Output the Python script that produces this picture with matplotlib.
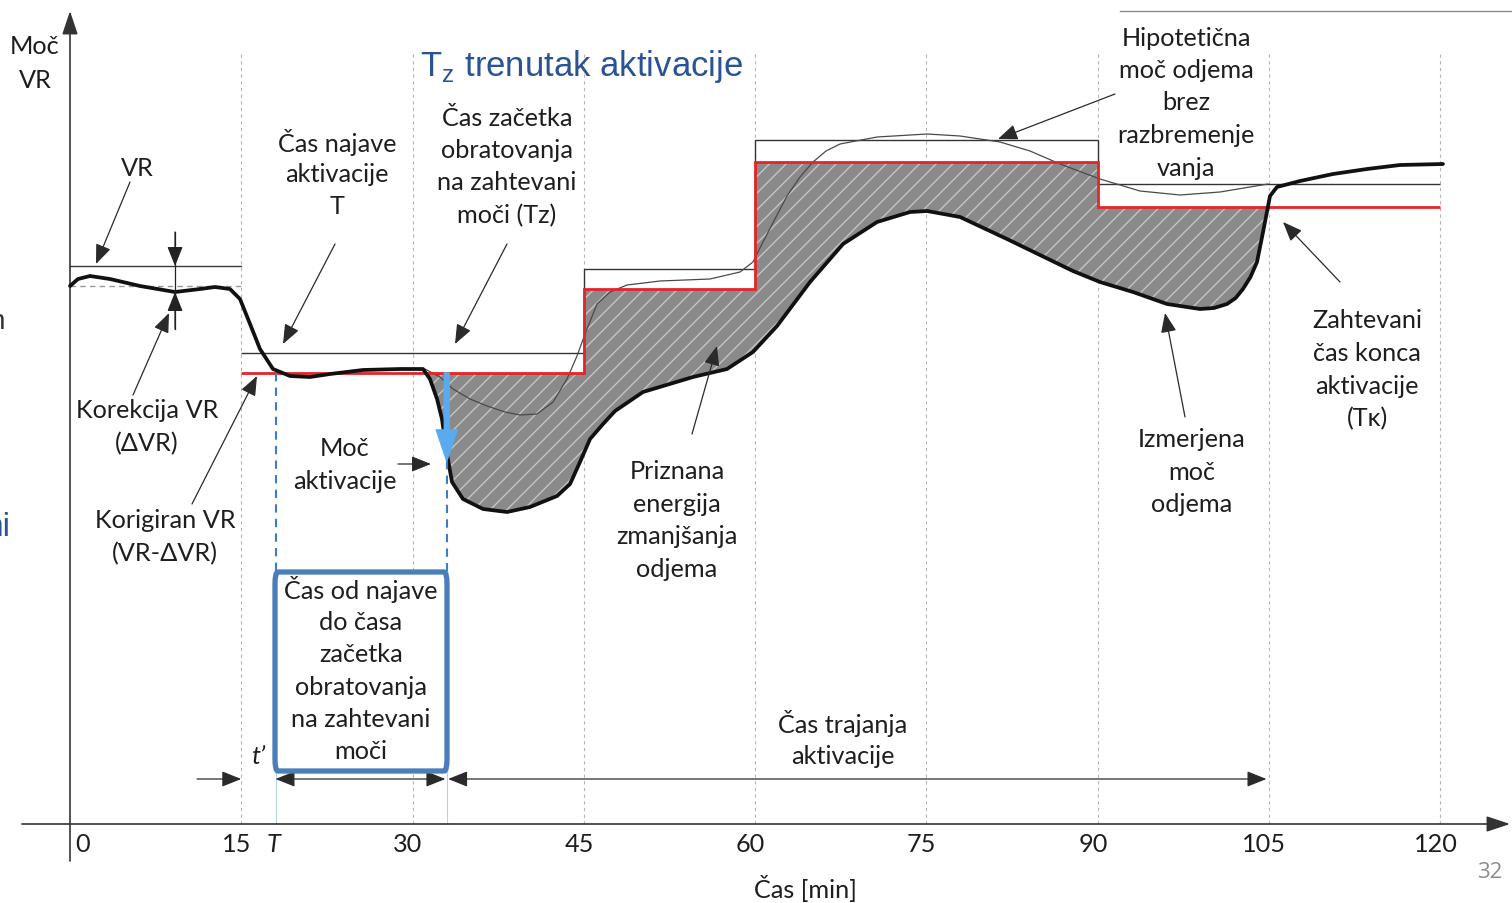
import numpy as np
import matplotlib
matplotlib.use("Agg")
import matplotlib.pyplot as plt
from matplotlib.patches import Polygon, FancyBboxPatch

# ---------------- data ----------------
x_ticks = [0, 15, 30, 45, 60, 75, 90, 105, 120]
x_tick_labels = ["0", "15", "30", "45", "60", "75", "90", "105", "120"]
T_announce = 18.0      # T  (čas najave)
Tz_start = 33.0        # Tz (začetek obratovanja)
T_end = 105.0          # Tk

vr_level = 11.16       # VR
vr_corrected = 10.76   # VR - dVR
dvr_x = 9.2

req_edges = [15, 45, 60, 90, 120]
req_levels = [9.02, 10.70, 13.24, 12.34]      # zahtevana moč (rdeča)
base_levels = [9.42, 11.10, 13.68, 12.80]     # tanka črna (osnovna)

meas_t = [0.0, 0.7, 1.75, 3.5, 6.13, 9.2, 11.39, 12.7, 14.01, 14.89, 15.77,
          16.64, 17.78, 19.27, 21.02, 22.77, 25.66, 28.9, 30.92, 31.53, 32.15,
          32.58, 33.02, 33.46, 34.42, 36.18, 38.28, 40.29, 42.66, 43.8, 44.67,
          45.55, 46.69, 47.74, 50.19, 54.57, 57.55, 59.82, 61.93, 64.82, 67.71,
          70.69, 73.58, 75.07, 77.96, 82.07, 87.85, 90.22, 93.11, 96.09, 98.98,
          100.2, 101.34, 102.1, 102.74, 103.4, 103.97, 104.5, 105.11, 105.72,
          107.74, 110.63, 113.61, 116.5, 120.26]
meas_p = [10.76, 10.9, 10.96, 10.9, 10.76, 10.64, 10.7, 10.74, 10.7, 10.5, 10.0,
          9.5, 9.1, 8.96, 8.94, 9.0, 9.08, 9.1, 9.1, 8.9, 8.5,
          8.1, 7.4, 6.84, 6.5, 6.3, 6.24, 6.34, 6.56, 6.8, 7.24,
          7.7, 8.0, 8.26, 8.64, 8.94, 9.1, 9.44, 9.96, 10.84, 11.6,
          12.04, 12.24, 12.26, 12.14, 11.7, 11.06, 10.84, 10.64, 10.4, 10.3,
          10.32, 10.4, 10.52, 10.7, 10.94, 11.24, 11.84, 12.56, 12.74,
          12.86, 13.0, 13.1, 13.18, 13.2]

hyp_t = [31.09, 32.41, 33.55, 35.04, 36.53, 38.1, 39.42, 40.9, 42.31, 43.53,
         44.41, 45.11, 46.16, 47.3, 48.79, 51.68, 56.06, 58.69, 59.82, 60.61,
         61.75, 62.8, 63.94, 65.08, 66.22, 67.45, 70.69, 75.07, 77.96, 81.46,
         84.09, 86.72, 90.22, 93.72, 97.23, 100.73, 104.93]
hyp_p = [9.1, 8.94, 8.7, 8.5, 8.36, 8.24, 8.18, 8.2, 8.44, 8.9,
         9.36, 9.8, 10.4, 10.64, 10.78, 10.86, 10.9, 11.04, 11.24, 11.6,
         12.1, 12.56, 12.94, 13.24, 13.46, 13.6, 13.74, 13.8, 13.76, 13.64,
         13.46, 13.2, 12.9, 12.66, 12.58, 12.64, 12.8]

# ---------------- layout helpers ----------------
X0, SX = 70.0, 1370.0 / 120.0     # px of t=0, px per minute
Y0, SY = 825.0, 50.0              # px of p=0, px per unit


def P(px, py):
    return ((px - X0) / SX, (Y0 - py) / SY)


FONT = ["Lato", "DejaVu Sans"]
TXT = "#1e1e1e"
FS = 18.2

plt.rcParams["hatch.linewidth"] = 1.0

fig = plt.figure(figsize=(15.12, 9.04), dpi=100)
ax = fig.add_axes([0, 0, 1, 1])
ax.set_xlim(P(0, 0)[0], P(1512, 0)[0])
ax.set_ylim(P(0, 904)[1], P(0, 0)[1])
ax.axis("off")


def block(cx, y_first, lines, size=FS, dy=32.5, **kw):
    for i, ln in enumerate(lines):
        x, y = P(cx, y_first + i * dy)
        ax.text(x, y, ln, ha="center", va="center", fontsize=size,
                family=FONT, color=kw.get("color", TXT),
                style=kw.get("style", "normal"), zorder=10)


AH = "-|>,head_length=0.8,head_width=0.32"


def pointer(tail, head):
    ax.annotate("", xy=P(*head), xytext=P(*tail),
                arrowprops=dict(arrowstyle=AH, lw=0.9, color="#2a2a2a",
                                mutation_scale=15, shrinkA=0, shrinkB=0), zorder=9)


# grid (dashed verticals)
top = P(0, 55)[1]
for t in x_ticks[1:]:
    ax.plot([t, t], [0, top], ls=(0, (3, 3)), lw=0.8, color="#b5b5b5", zorder=1)


def req_at(t):
    i = int(np.clip(np.searchsorted(req_edges, t, side="right") - 1, 0, len(req_levels) - 1))
    return req_levels[i]


mt = np.array(meas_t)
mp = np.array(meas_p)
d = mp - np.array([req_at(t) for t in mt])
idx = [i for i in range(len(mt) - 1) if mt[i] > 25 and (d[i] >= 0) != (d[i + 1] >= 0)]
i0, i1 = idx[0], idx[-1]
ts = mt[i0] + (mt[i0 + 1] - mt[i0]) * d[i0] / (d[i0] - d[i0 + 1])
te = mt[i1] + (mt[i1 + 1] - mt[i1]) * d[i1] / (d[i1] - d[i1 + 1])

verts = [(ts, req_at(ts))]
for k, e in enumerate(req_edges[1:-1], start=1):
    if ts < e < te:
        verts.append((e, req_levels[k - 1]))
        verts.append((e, req_levels[k]))
verts.append((te, req_at(te)))
inside = [(t, p) for t, p in zip(mt, mp) if ts < t < te]
verts += inside[::-1]
ax.add_patch(Polygon(verts, closed=True, facecolor="#8a8a8a",
                     edgecolor="#c4c4c4", hatch="//", lw=0, zorder=2))

# VR box lines
ax.plot([0, 15], [vr_level, vr_level], color="#3a3a3a", lw=1.0, zorder=3)
ax.plot([0, 15], [vr_corrected, vr_corrected], color="#9a9a9a", lw=1.0,
        ls=(0, (4, 3)), zorder=3)

# thin black baseline steps
ax.stairs(base_levels, req_edges, baseline=None, color="#333333", lw=1.0, zorder=3)

# hypothetical consumption
ax.plot(hyp_t, hyp_p, color="#4a4a4a", lw=0.9, zorder=4)

# required power (red)
ax.stairs(req_levels, req_edges, baseline=None, color="#e3242b", lw=2.0, zorder=5)

# measured consumption
ax.plot(meas_t, meas_p, color="#111111", lw=2.7, solid_capstyle="round",
        solid_joinstyle="round", zorder=6)

# delta VR marker
ax.plot([dvr_x, dvr_x], [P(0, 233)[1], P(0, 330)[1]], color="#222", lw=0.9, zorder=7)
ax.annotate("", xy=(dvr_x, vr_level), xytext=(dvr_x, P(0, 233)[1]),
            arrowprops=dict(arrowstyle=AH, lw=0.9, color="#222", mutation_scale=15,
                            shrinkA=0, shrinkB=0))
ax.annotate("", xy=(dvr_x, 10.64), xytext=(dvr_x, P(0, 330)[1]),
            arrowprops=dict(arrowstyle=AH, lw=0.9, color="#222", mutation_scale=15,
                            shrinkA=0, shrinkB=0))

# blue dashed markers of T and Tz
box_top = P(0, 573)[1]
box_bot = P(0, 772)[1]
ax.plot([T_announce, T_announce], [req_levels[0], box_top], color="#3d7cc9",
        lw=1.5, ls=(0, (4, 3)), zorder=7)
ax.plot([Tz_start, Tz_start], [P(0, 462)[1], box_top], color="#3d7cc9",
        lw=1.5, ls=(0, (4, 3)), zorder=7)
for t in (T_announce, Tz_start):
    ax.plot([t, t], [0, box_bot], color="#b5d0ec", lw=0.8, zorder=1)

# blue activation arrow
ax.annotate("", xy=(Tz_start, P(0, 462)[1]), xytext=(Tz_start, req_levels[0]),
            arrowprops=dict(arrowstyle="simple,head_length=1.4,head_width=0.95,tail_width=0.22",
                            color="#5aaaf0", mutation_scale=16, shrinkA=0, shrinkB=0), zorder=8)

# blue box
bx0, by0 = P(275, 772)
bx1, by1 = P(447, 573)
ax.add_patch(FancyBboxPatch((bx0, by0), bx1 - bx0, by1 - by0,
                            boxstyle="round,pad=0,rounding_size=0.25",
                            facecolor="white", edgecolor="#4a7ebb", lw=3.8, zorder=8))
block(361, 590, ["Čas od najave", "do časa", "začetka", "obratovanja",
                 "na zahtevani", "moči"], dy=32.4)

# bottom dimension arrows
yd = P(0, 780)[1]
kw = dict(lw=0.9, color="#2a2a2a", mutation_scale=15, shrinkA=0, shrinkB=0)
ax.annotate("", xy=(15, yd), xytext=(P(197, 0)[0], yd),
            arrowprops=dict(arrowstyle=AH, **kw))
ax.annotate("", xy=(T_announce, yd), xytext=(Tz_start - 0.12, yd),
            arrowprops=dict(arrowstyle="<|-|>,head_length=0.8,head_width=0.32", **kw))
ax.annotate("", xy=(Tz_start + 0.12, yd), xytext=(T_end - 0.2, yd),
            arrowprops=dict(arrowstyle="<|-|>,head_length=0.8,head_width=0.32", **kw))

# axes with arrows
ax.annotate("", xy=(P(1510, 0)[0], 0), xytext=(P(22, 0)[0], 0),
            arrowprops=dict(arrowstyle="-|>,head_length=0.9,head_width=0.3",
                            lw=1.2, color="#333", mutation_scale=16, shrinkA=0, shrinkB=0))
ax.annotate("", xy=(0, P(0, 12)[1]), xytext=(0, P(0, 862)[1]),
            arrowprops=dict(arrowstyle="-|>,head_length=0.9,head_width=0.3",
                            lw=1.2, color="#333", mutation_scale=16, shrinkA=0, shrinkB=0))

# tick labels
ty = P(0, 845)[1]
for t, lab in zip(x_ticks, x_tick_labels):
    if t == 0:
        ax.text(t + 0.45, ty, lab, ha="left", va="center", fontsize=FS, family=FONT, color=TXT)
    else:
        ax.text(t - 0.4, ty, lab, ha="center", va="center", fontsize=FS, family=FONT, color=TXT)
ax.text(T_announce - 0.2, ty, "T", ha="center", va="center", fontsize=FS, family=FONT,
        style="italic", color=TXT)
ax.text(*P(258, 757), "t\u2019", ha="center", va="center", fontsize=FS, family=FONT,
        style="italic", color=TXT)
ax.text(*P(805, 889), "Čas [min]", ha="center", va="center", fontsize=FS, family=FONT, color=TXT)

# labels
block(35, 47, ["Moč", "VR"], dy=33)
block(137, 168, ["VR"])
block(337, 142, ["Čas najave", "aktivacije", "T"])
block(507, 118, ["Čas začetka", "obratovanja", "na zahtevani", "moči (Tz)"])
block(147, 411, ["Korekcija VR", "(ΔVR)"])
block(165, 521, ["Korigiran VR", "(VR-ΔVR)"])
block(345, 449, ["Moč", "aktivacije"])
block(677, 472, ["Priznana", "energija", "zmanjšanja", "odjema"])
block(1186, 38, ["Hipotetična", "moč odjema", "brez", "razbremenje", "vanja"])
block(1367, 321, ["Zahtevani", "čas konca", "aktivacije", "(Tκ)"])
block(1192, 440, ["Izmerjena", "moč", "odjema"])
block(843, 724, ["Čas trajanja", "aktivacije"])

# pointers
pointer((130, 183), (96, 265))
pointer((335, 245), (283, 345))
pointer((507, 245), (455, 345))
pointer((133, 396), (169, 314))
pointer((192, 505), (257, 377))
pointer((398, 465), (431, 465))
pointer((692, 435), (717, 347))
pointer((1115, 95), (998, 140))
pointer((1185, 418), (1165, 314))
pointer((1340, 283), (1283, 223))

# title
ax.text(*P(420, 76), r"T$_{\mathregular{z}}$ trenutak aktivacije", ha="left",
        va="baseline", fontsize=25, family=["Liberation Sans"], color="#2a5396")

# slide remnants
ax.plot([P(1120, 0)[0], P(1512, 0)[0]], [P(0, 12)[1]] * 2, color="#8a8a8a", lw=1.0)
ax.text(*P(1490, 873), "32", ha="center", va="center", fontsize=16,
        family=["Open Sans", "DejaVu Sans"], color="#8c8c8c")
ax.text(*P(11, 528), "ni", ha="right", va="center", fontsize=24,
        family=["Liberation Sans"], color="#2a5396")
ax.text(*P(5, 322), "n", ha="right", va="center", fontsize=20,
        family=["Liberation Sans"], color="#333")

fig.savefig("out.png", dpi=100, facecolor="white")
